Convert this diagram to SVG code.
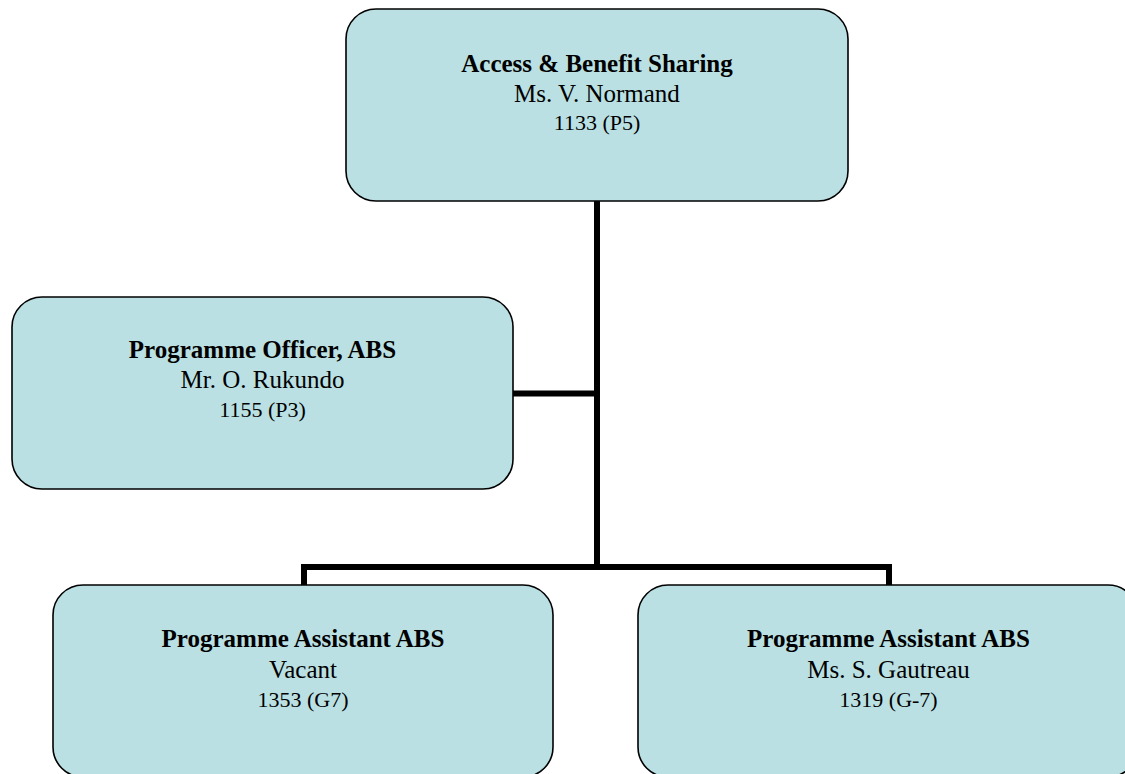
<svg xmlns="http://www.w3.org/2000/svg" width="1125" height="774" viewBox="0 0 1125 774">
<style>
.box{fill:#bae0e3;stroke:#000;stroke-width:1.6}
.t{font-family:"Liberation Serif","Times New Roman",serif;text-anchor:middle;fill:#000}
.h{font-size:25px;font-weight:bold}
.n{font-size:25px}
.c{font-size:22px}
.conn{fill:none;stroke:#000;stroke-width:6;stroke-linejoin:miter}
</style>
<rect width="1125" height="774" fill="#fff"/>
<g id="connectors">
<path class="conn" d="M597,201 V567"/>
<path class="conn" d="M513,393.5 H597"/>
<path class="conn" d="M304,585 V567 H889 V585"/>
</g>
<g id="node-abs">
<rect class="box" x="346" y="9" width="502" height="192" rx="30" ry="30"/>
<text class="t h" x="597" y="72">Access &amp; Benefit Sharing</text>
<text class="t n" x="597" y="102">Ms. V. Normand</text>
<text class="t c" x="597" y="130">1133 (P5)</text>
</g>
<g id="node-officer">
<rect class="box" x="12" y="297" width="501" height="192" rx="30" ry="30"/>
<text class="t h" x="262.5" y="358">Programme Officer, ABS</text>
<text class="t n" x="262.5" y="388">Mr. O. Rukundo</text>
<text class="t c" x="262.5" y="417">1155 (P3)</text>
</g>
<g id="node-assistant-vacant">
<rect class="box" x="53" y="585" width="500" height="192" rx="30" ry="30"/>
<text class="t h" x="303" y="647">Programme Assistant ABS</text>
<text class="t n" x="303" y="678">Vacant</text>
<text class="t c" x="303" y="707">1353 (G7)</text>
</g>
<g id="node-assistant-gautreau">
<rect class="box" x="638" y="585" width="500" height="192" rx="30" ry="30"/>
<text class="t h" x="888.5" y="647">Programme Assistant ABS</text>
<text class="t n" x="888.5" y="678">Ms. S. Gautreau</text>
<text class="t c" x="888.5" y="707">1319 (G-7)</text>
</g>
</svg>
